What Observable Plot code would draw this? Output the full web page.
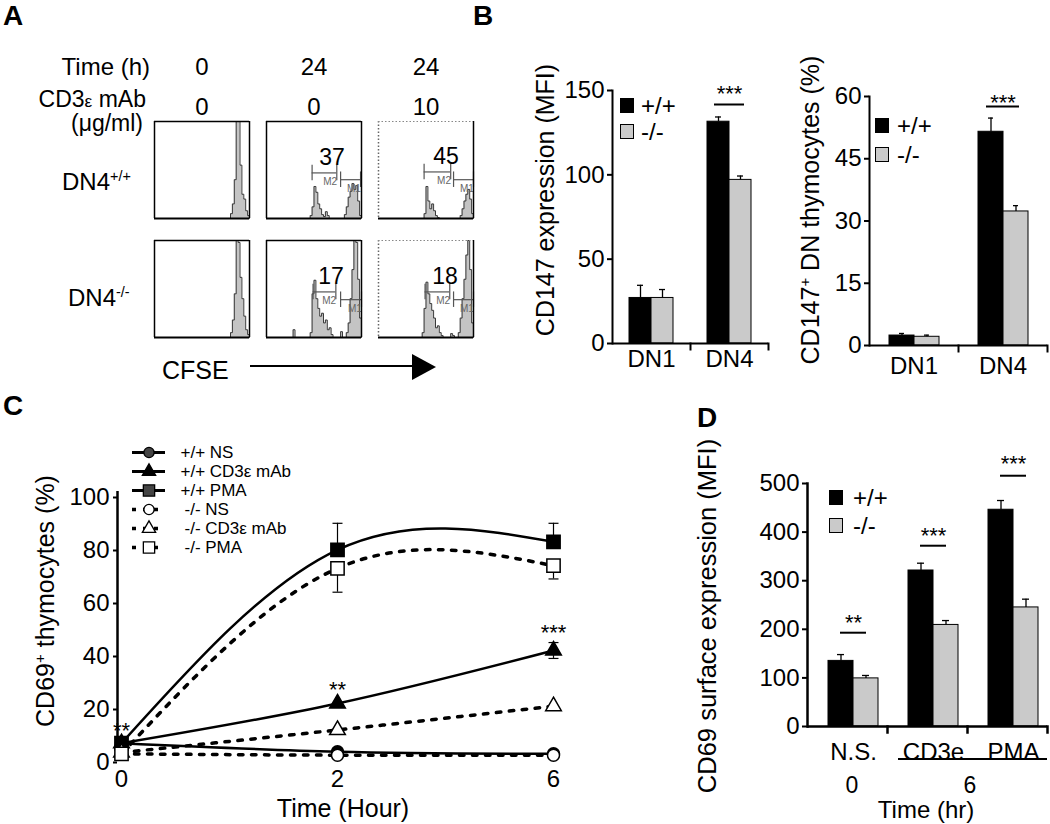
<!DOCTYPE html>
<html><head><meta charset="utf-8">
<script src="https://cdn.jsdelivr.net/npm/d3@7"></script>
<script src="https://cdn.jsdelivr.net/npm/@observablehq/plot@0.6"></script>
<style>
body{margin:0;background:#fff;}
#root{position:relative;width:1050px;height:824px;overflow:hidden;font-family:"Liberation Sans",Arial,Helvetica,sans-serif;color:#000;background:#fff;}
.t{position:absolute;white-space:nowrap;line-height:1;}
.sq{position:absolute;box-sizing:border-box;border:1px solid #000;}
sup{font-size:0.6em;vertical-align:0.6em;line-height:0;}
</style></head><body><div id="root"></div>
<script>
// ================= DATA =================
const genotypes = ["+/+", "-/-"];
const genoFill = ["#000000", "#cacaca"];

// ---- Panel A: CFSE histograms (bin heights, 51 channels) ----
const histCols = ["t0", "t24", "t24cd3"];
const histTime = ["0", "24", "24"];
const histDose = ["0", "0", "10"];
const histRows = ["DN4+/+", "DN4-/-"];
const hWt_0 = [0,0,0,0,0,0,0,0,0,0, 0,0,0,0,0,0,0,0,0,0, 0,0,0,0,0,0,0,0,0,0, 0,0,0,0,0,0,0,0,0,0, 5,15,40,100,100,55,25,20,8,3, 0];
const hWt_24 = [0,0,0,0,0,0,0,0,0,0, 0,0,0,0,0,0,0,0,0,0, 0,0,0,3,12,33,27,15,10,4, 2,7,3,0,0,0,0,0,0,0, 0,4,12,22,28,36,30,34,18,3, 0];
const hWt_24cd3 = [0,0,0,0,0,0,0,0,0,0, 0,0,0,0,0,0,0,0,0,0, 0,0,0,0,5,33,18,10,15,8, 3,1,0,0,0,0,0,0,0,0, 0,0,0,3,10,18,25,30,20,5, 0];
const hKo_0 = [0,0,0,0,0,0,0,0,0,0, 0,0,0,0,0,0,0,0,0,0, 0,0,0,0,0,0,0,0,0,0, 0,0,0,0,0,0,0,0,0,0, 5,18,45,100,98,62,40,22,8,3, 0];
const hKo_24 = [0,0,0,0,0,0,0,0,0,0, 0,0,0,0,8,0,0,0,0,0, 0,0,0,5,45,59,40,30,22,25, 15,18,8,10,3,0,0,0,0,6, 0,0,5,15,40,70,100,98,60,20, 0];
const hKo_24cd3 = [0,0,0,0,0,0,0,0,0,0, 0,0,0,0,0,0,0,0,0,0, 0,0,0,5,30,57,45,35,28,20, 10,12,5,2,0,0,0,0,4,2, 0,0,5,20,40,60,85,100,70,15, 0];
// gates: [row, col, name, from, to, level, percent]
const gates = [
  ["DN4+/+", "t24", "M2", 24, 37, 47, 37], ["DN4+/+", "t24", "M1", 39, 49.5, 40, null],
  ["DN4+/+", "t24cd3", "M2", 24, 38, 48, 45], ["DN4+/+", "t24cd3", "M1", 39.5, 50, 40, null],
  ["DN4-/-", "t24", "M2", 24.5, 36.5, 47, 17], ["DN4-/-", "t24", "M1", 39, 50, 39, null],
  ["DN4-/-", "t24cd3", "M2", 24.5, 37.5, 47, 18], ["DN4-/-", "t24cd3", "M1", 39.5, 50, 39, null]
];

// ---- Panel B ----
const bGroups = ["DN1", "DN4"];
const b1Wt = [27, 131.5], b1WtErr = [34.5, 134.3];
const b1Ko = [27, 97], b1KoErr = [32, 99.3];
const b1Sig = [{group: "DN4", label: "***", yText: 148, yLine: 141.7}];
const b2Wt = [2.4, 51.5], b2WtErr = [2.9, 54.8];
const b2Ko = [2.1, 32.3], b2KoErr = [2.5, 33.7];
const b2Sig = [{group: "DN4", label: "***", yText: 58.4, yLine: 57.6}];

// ---- Panel C ----
const cTimes = ["0", "2", "6"];
const cSeries = ["+/+ NS", "+/+ CD3ε mAb", "+/+ PMA", "-/- NS", "-/- CD3ε mAb", "-/- PMA"];
const cStim = ["NS", "CD3", "PMA", "NS", "CD3", "PMA"];
const cWtNS = [5, 1.8, 1], cWtCD3 = [5, 20, 40], cWtPMA = [5, 78, 81];
const cKoNS = [1, 0.5, 0.5], cKoCD3 = [1.5, 10, 19], cKoPMA = [1, 71, 72];
const cErr = [
  {t: "2", lo: 78, hi: 88}, {t: "2", lo: 62, hi: 71},
  {t: "6", lo: 81, hi: 88}, {t: "6", lo: 67, hi: 72},
  {t: "6", lo: 37, hi: 43}
];
const cSig = [{t: "0", y: 9.5, label: "**"}, {t: "2", y: 25, label: "**"}, {t: "6", y: 46.5, label: "***"}];

// ---- Panel D ----
const dGroups = ["N.S.", "CD3e", "PMA"];
const dWt = [135, 321, 446], dWtErr = [148, 336, 465];
const dKo = [99, 209, 245], dKoErr = [105, 218, 262];
const dSig = [
  {group: "N.S.", label: "**", yText: 213, yLine: 193},
  {group: "CD3e", label: "***", yText: 392, yLine: 372},
  {group: "PMA", label: "***", yText: 540, yLine: 516}
];
const dTimeLabels = ["0", "6"];

// ================= HELPERS =================
const root = document.getElementById("root");
const FONT = '"Liberation Sans", Arial, Helvetica, sans-serif';
const style = {fontFamily: FONT, fontSize: "24px", background: "transparent", overflow: "visible", color: "#000"};
function put(el, left, top) {
  el.style.position = "absolute"; el.style.left = left + "px"; el.style.top = top + "px";
  root.appendChild(el);
}
function txt(html, x, y, {anchor = "middle", size = 24, weight = "normal", rotate = false} = {}) {
  const d = document.createElement("div");
  d.className = "t"; d.innerHTML = html;
  d.style.left = x + "px"; d.style.top = y + "px";
  d.style.fontSize = size + "px"; d.style.fontWeight = weight;
  const tx = anchor === "start" ? "0" : anchor === "end" ? "-100%" : "-50%";
  d.style.transform = rotate ? "translate(-50%,-50%) rotate(-90deg)" : `translate(${tx},-50%)`;
  root.appendChild(d);
}
function legendSquares(x, tops, textX) {
  genotypes.forEach((g, i) => {
    const s = document.createElement("div");
    s.className = "sq"; s.style.background = genoFill[i];
    s.style.width = "14px"; s.style.height = "15px";
    put(s, x, tops[i]);
    txt(g, textX, tops[i] + 8, {anchor: "start", size: 24});
  });
}
// horizontal-bar symbol used for error-bar caps on point scales
const capSymbol = {draw(ctx, size) { const r = Math.sqrt(size / Math.PI); ctx.moveTo(-r, 0); ctx.lineTo(r, 0); }};

// ================= PANEL A =================
const histSeries = [
  ["DN4+/+", "t0", hWt_0], ["DN4+/+", "t24", hWt_24], ["DN4+/+", "t24cd3", hWt_24cd3],
  ["DN4-/-", "t0", hKo_0], ["DN4-/-", "t24", hKo_24], ["DN4-/-", "t24cd3", hKo_24cd3]
];
const histData = histSeries.flatMap(([row, col, vals]) => vals.map((c, i) => ({row, col, bin: i, count: c})));
const boxes = histSeries.map(([row, col]) => ({row, col, solid: col !== histCols[2]}));
const gateData = gates.map(([row, col, name, x1, x2, y, pct]) => ({row, col, name, x1, x2, y, pct}));
const gateEnds = gateData.flatMap(g => [{...g, x: g.x1}, {...g, x: g.x2}]);
const headData = histCols.map((c, i) => ({col: c, row: histRows[0], time: histTime[i], dose: histDose[i]}));
const F = {fx: "col", fy: "row"};

const plotA = Plot.plot({
  width: 330, height: 225, marginLeft: 3, marginRight: 5, marginTop: 6, marginBottom: 3,
  style,
  fx: {domain: histCols, padding: 0.15, axis: null},
  fy: {domain: histRows, padding: 0.185, axis: null},
  x: {domain: [0, 50], axis: null},
  y: {domain: [0, 100], axis: null},
  marks: [
    Plot.areaY(histData, {...F, x: "bin", y: "count", curve: "step-after", fill: "#c4c4c4"}),
    Plot.lineY(histData, {...F, x: "bin", y: "count", curve: "step-after", stroke: "#3a3a3a", strokeWidth: 1}),
    Plot.ruleY(gateData, {...F, y: "y", x1: "x1", x2: "x2", stroke: "#555", strokeWidth: 1.2}),
    Plot.ruleX(gateEnds, {...F, x: "x", y1: d => d.y - 8, y2: d => d.y + 8, stroke: "#555", strokeWidth: 1.2}),
    Plot.text(gateData, {...F, x: d => d.x2 - 3.5, y: d => d.y - 9, text: "name", fontSize: 10, fill: "#666"}),
    Plot.text(gateData.filter(d => d.pct != null), {...F, x: d => d.x2 - 2.5, y: d => d.y + 16, text: "pct", fontSize: 23}),
    // box borders
    Plot.ruleY(boxes, {...F, y: 0, strokeWidth: 2}),
    Plot.ruleX(boxes, {...F, x: 50, strokeWidth: 1.5}),
    Plot.ruleX(boxes.filter(d => d.solid), {...F, x: 0, strokeWidth: 1.5}),
    Plot.ruleY(boxes.filter(d => d.solid), {...F, y: 100, strokeWidth: 1.5}),
    Plot.ruleX(boxes.filter(d => !d.solid), {...F, x: 0, strokeWidth: 1.5, stroke: "#666", strokeDasharray: "1.5,2"}),
    Plot.ruleY(boxes.filter(d => !d.solid), {...F, y: 100, strokeWidth: 1.2, stroke: "#888", strokeDasharray: "1.5,2"}),
    Plot.text(headData, {...F, frameAnchor: "top", lineAnchor: "middle", dy: -54, text: "time", fontSize: 24}),
    Plot.text(headData, {...F, frameAnchor: "top", lineAnchor: "middle", dy: -14, text: "dose", fontSize: 24})
  ]
});
put(plotA, 150, 115);

txt("A", 3, 16, {anchor: "start", size: 28, weight: "bold"});
txt("Time (h)", 150, 67, {anchor: "end"});
txt('CD3<span style="font-size:0.75em">ε</span> mAb', 146, 99, {anchor: "end", size: 23});
txt("(μg/ml)", 143, 123, {anchor: "end", size: 23});
txt("DN4<sup>+/+</sup>", 62, 182, {anchor: "start"});
txt("DN4<sup>-/-</sup>", 68, 298, {anchor: "start"});
txt("CFSE", 162, 370, {anchor: "start", size: 25});
(function () {
  const ns = "http://www.w3.org/2000/svg";
  const s = document.createElementNS(ns, "svg");
  s.setAttribute("width", 200); s.setAttribute("height", 40);
  s.innerHTML = '<line x1="0" y1="16" x2="164" y2="16" stroke="#000" stroke-width="2"/><polygon points="162,4 186,17 162,30" fill="#000"/>';
  put(s, 250, 350);
})();

// ================= BAR CHART HELPER =================
function barChart(o) {
  const data = [];
  o.groups.forEach((g, i) => {
    data.push({group: g, genotype: genotypes[0], value: o.wt[i], err: o.wtErr[i]});
    data.push({group: g, genotype: genotypes[1], value: o.ko[i], err: o.koErr[i]});
  });
  const frameH = o.height - o.mT - o.mB;
  const p = Plot.plot({
    width: o.width, height: o.height,
    marginLeft: o.mL, marginRight: o.mR, marginTop: o.mT, marginBottom: o.mB,
    style,
    fx: {domain: o.groups, padding: 0},
    x: {domain: genotypes, paddingInner: 0, paddingOuter: o.pOuter, align: o.align, axis: null},
    y: {domain: [0, o.yMax]},
    color: {type: "ordinal", domain: genotypes, range: genoFill},
    marks: [
      Plot.barY(data, {fx: "group", x: "genotype", y: "value", fill: "genotype", stroke: "#000", strokeWidth: 1}),
      Plot.ruleX(data, {fx: "group", x: "genotype", y1: "value", y2: "err", stroke: "#000", strokeWidth: 1.3}),
      Plot.tickY(data, {fx: "group", x: "genotype", y: "err", insetLeft: o.capInset, insetRight: o.capInset, strokeWidth: 1.3}),
      Plot.ruleY([0], {strokeWidth: o.axisW}),
      Plot.frame({anchor: "left", facetAnchor: "left", strokeWidth: o.axisW}),
      Plot.frame({anchor: "right", insetTop: frameH, insetBottom: -6, strokeWidth: o.axisW}),
      Plot.axisY({ticks: o.yTicks, tickSize: 5, tickPadding: 3, fontSize: 24, label: null, strokeWidth: 2}),
      Plot.axisFx({anchor: "bottom", tickSize: 0, tickPadding: o.labelPad, fontSize: 24, label: null, dx: o.fxDx}),
      Plot.text(o.sig, {fx: "group", y: "yText", text: "label", fontSize: 22, dx: o.sigDx}),
      Plot.ruleY(o.sig, {fx: "group", y: "yLine", insetLeft: o.sigInset + o.sigDx, insetRight: o.sigInset - o.sigDx, strokeWidth: 2})
    ]
  });
  put(p, o.left, o.top);
}

// ================= PANEL B =================
txt("B", 473, 16, {anchor: "start", size: 28, weight: "bold"});
barChart({groups: bGroups, wt: b1Wt, wtErr: b1WtErr, ko: b1Ko, koErr: b1KoErr, sig: b1Sig,
  yMax: 150, yTicks: [0, 50, 100, 150], left: 540, top: 70, width: 230, height: 310,
  mL: 72, mR: 2, mT: 20, mB: 37, pOuter: 0.7, align: 0.5, capInset: 8, axisW: 2,
  labelPad: 6, fxDx: 0, sigInset: 24, sigDx: 0});
txt("CD147 expression (MFI)", 545, 200, {size: 25, rotate: true});
legendSquares(620, [98, 124], 641);

barChart({groups: bGroups, wt: b2Wt, wtErr: b2WtErr, ko: b2Ko, koErr: b2KoErr, sig: b2Sig,
  yMax: 60, yTicks: [0, 15, 30, 45, 60], left: 790, top: 70, width: 260, height: 310,
  mL: 78, mR: 3, mT: 26, mB: 35, pOuter: 0.72, align: 0.5, capInset: 10, axisW: 2,
  labelPad: 11, fxDx: 0, sigInset: 28, sigDx: 0});
txt("CD147<sup>+</sup> DN thymocytes (%)", 810, 210, {size: 25, rotate: true});
legendSquares(875, [118, 147], 897);

// ================= PANEL C =================
txt("C", 3, 406, {anchor: "start", size: 28, weight: "bold"});
const cVals = [cWtNS, cWtCD3, cWtPMA, cKoNS, cKoCD3, cKoPMA];
const cLong = cSeries.flatMap((s, i) => cTimes.map((t, j) => ({series: s, stim: cStim[i], wt: i < 3, t, v: cVals[i][j]})));
const cCaps = cErr.flatMap(e => [{t: e.t, y: e.lo}, {t: e.t, y: e.hi}]);
const symR = {NS: 6, CD3: 5.8, PMA: 7.5};
const symName = {NS: "circle", CD3: "triangle", PMA: "square"};
function dots(data, fill) {
  return Object.keys(symName).map(k => Plot.dot(data.filter(d => d.stim === k),
    {x: "t", y: "v", symbol: symName[k], r: symR[k], fill, stroke: "#000", strokeWidth: 1.5}));
}
const plotC = Plot.plot({
  width: 600, height: 340, marginLeft: 117, marginRight: 40, marginTop: 21, marginBottom: 54,
  style,
  x: {type: "point", domain: cTimes, padding: 0, insetLeft: 4, insetRight: 7},
  y: {domain: [0, 100]},
  marks: [
    Plot.ruleX([cTimes[0]], {y1: 0, y2: 100, dx: -4, strokeWidth: 2.5}),
    Plot.axisY({ticks: [0, 20, 40, 60, 80, 100], tickSize: 4, tickPadding: 4, fontSize: 24, label: null, dy: 6, strokeWidth: 2}),
    Plot.axisX({tickSize: 0, tickPadding: 13, fontSize: 24, label: null}),
    Plot.line(cLong.filter(d => !d.wt), {x: "t", y: "v", z: "series", curve: "natural", strokeWidth: 3.5, strokeDasharray: "4.5,8.5"}),
    Plot.line(cLong.filter(d => d.wt), {x: "t", y: "v", z: "series", curve: "natural", strokeWidth: 2.5}),
    Plot.ruleX(cErr, {x: "t", y1: "lo", y2: "hi", strokeWidth: 1.2}),
    Plot.dot(cCaps, {x: "t", y: "y", symbol: capSymbol, r: 5, fill: "none", stroke: "#000", strokeWidth: 1.2}),
    ...dots(cLong.filter(d => d.wt), "#000"),
    ...dots(cLong.filter(d => !d.wt), "#fff"),
    Plot.text(cSig, {x: "t", y: "y", text: "label", fontSize: 22})
  ]
});
put(plotC, 0, 470);
txt("CD69<sup>+</sup> thymocytes (%)", 45, 601, {size: 25, rotate: true});
txt("Time (Hour)", 343, 808, {size: 25});

// legend for C
const legData = cSeries.map((s, i) => ({name: s, stim: cStim[i], wt: i < 3, pos: 0.5}));
const legC = Plot.plot({
  width: 240, height: 120, marginLeft: 12, marginRight: 195, marginTop: 10, marginBottom: 12,
  style,
  x: {domain: [0, 1], axis: null},
  y: {type: "point", domain: cSeries, padding: 0, axis: null},
  marks: [
    Plot.ruleY(legData.filter(d => d.wt), {y: "name", x1: 0, x2: 1, strokeWidth: 3}),
    Plot.ruleY(legData.filter(d => !d.wt), {y: "name", x1: 0, x2: 1, strokeWidth: 3.5, strokeDasharray: "4,7"}),
    ...Object.keys(symName).map(k => Plot.dot(legData.filter(d => d.wt && d.stim === k),
      {x: "pos", y: "name", symbol: symName[k], r: symR[k] * 0.85, fill: k === "CD3" ? "#000" : "#444", stroke: "#000", strokeWidth: 1.3})),
    ...Object.keys(symName).map(k => Plot.dot(legData.filter(d => !d.wt && d.stim === k),
      {x: "pos", y: "name", symbol: symName[k], r: symR[k] * 0.85, fill: "#fff", stroke: "#000", strokeWidth: 1.3})),
    Plot.text(legData.filter(d => d.wt), {y: "name", x: 1, dx: 15, text: "name", textAnchor: "start", fontSize: 17}),
    Plot.text(legData.filter(d => !d.wt), {y: "name", x: 1, dx: 19, text: "name", textAnchor: "start", fontSize: 17})
  ]
});
put(legC, 120, 440);

// ================= PANEL D =================
txt("D", 697, 418, {anchor: "start", size: 28, weight: "bold"});
barChart({groups: dGroups, wt: dWt, wtErr: dWtErr, ko: dKo, koErr: dKoErr, sig: dSig,
  yMax: 500, yTicks: [0, 100, 200, 300, 400, 500], left: 730, top: 450, width: 320, height: 320,
  mL: 76, mR: 2, mT: 33, mB: 44, pOuter: 0.552, align: 0.7, capInset: 9, axisW: 2.5,
  labelPad: 16, fxDx: 6, sigInset: 27, sigDx: 6});
txt("CD69 surface expression (MFI)", 708, 616, {size: 25.5, rotate: true});
legendSquares(829, [490, 518], 853);
(function () {
  const u = document.createElement("div");
  u.style.width = "149px"; u.style.height = "0"; u.style.borderTop = "2px solid #000";
  put(u, 898, 758);
})();
txt(dTimeLabels[0], 852, 785, {size: 23});
txt(dTimeLabels[1], 970, 785, {size: 23});
txt("Time (hr)", 926, 810, {size: 24});
</script></body></html>
